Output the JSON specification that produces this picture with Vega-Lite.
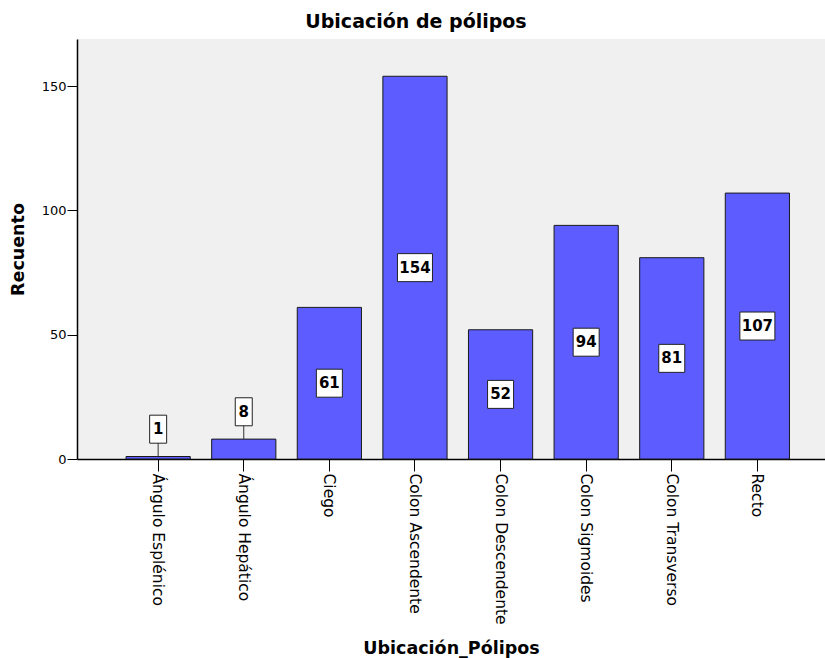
{
  "$schema": "https://vega.github.io/schema/vega-lite/v6.json",
  "width": 748,
  "height": 420,
  "autosize": {"type": "none"},
  "padding": {"left": 77, "top": 39, "right": 0, "bottom": 199},
  "background": "white",
  "config": {
    "font": "DejaVu Sans",
    "view": {"fill": "#f0f0f0", "stroke": null}
  },
  "title": {
    "text": "Ubicación de pólipos",
    "font": "DejaVu Sans",
    "fontSize": 19,
    "fontWeight": "bold",
    "color": "#000000",
    "anchor": "middle",
    "dx": -35,
    "offset": 7
  },
  "data": {
    "values": [
      {"Ubicacion": "Ángulo Esplénico", "Recuento": 1},
      {"Ubicacion": "Ángulo Hepático", "Recuento": 8},
      {"Ubicacion": "Ciego", "Recuento": 61},
      {"Ubicacion": "Colon Ascendente", "Recuento": 154},
      {"Ubicacion": "Colon Descendente", "Recuento": 52},
      {"Ubicacion": "Colon Sigmoides", "Recuento": 94},
      {"Ubicacion": "Colon Transverso", "Recuento": 81},
      {"Ubicacion": "Recto", "Recuento": 107}
    ]
  },
  "transform": [
    {"calculate": "datum.Recuento < 20 ? datum.Recuento + 11 : datum.Recuento / 2", "as": "labelPos"},
    {"calculate": "length(toString(datum.Recuento))", "as": "digits"}
  ],
  "encoding": {
    "x": {
      "field": "Ubicacion",
      "type": "nominal",
      "sort": null,
      "scale": {"paddingInner": 0.25, "paddingOuter": 0.494, "align": 0.58},
      "axis": {
        "title": "Ubicación_Pólipos",
        "titleFont": "DejaVu Sans",
        "titleFontSize": 17.5,
        "titleFontWeight": "bold",
        "titleColor": "#000000",
        "titleY": 189,
        "titleBaseline": "middle",
        "labelAngle": 90,
        "labelAlign": "left",
        "labelBaseline": "middle",
        "labelFontSize": 15.5,
        "labelColor": "#000000",
        "labelPadding": 2,
        "tickSize": 12,
        "tickColor": "#000000",
        "domainColor": "#000000",
        "domainWidth": 1.5
      }
    },
    "y": {
      "field": "Recuento",
      "type": "quantitative",
      "scale": {"domain": [0, 169], "nice": false, "zero": true},
      "axis": {
        "title": "Recuento",
        "titleFont": "DejaVu Sans",
        "titleFontSize": 17.5,
        "titleFontWeight": "bold",
        "titleColor": "#000000",
        "titleX": -59,
        "titleBaseline": "middle",
        "values": [0, 50, 100, 150],
        "grid": false,
        "labelFontSize": 13,
        "labelColor": "#000000",
        "labelPadding": 1,
        "tickSize": 10,
        "tickColor": "#000000",
        "domainColor": "#000000",
        "domainWidth": 1.5
      }
    }
  },
  "layer": [
    {
      "data": {"values": [{}]},
      "mark": {"type": "rule", "stroke": "#8a8a8a", "strokeWidth": 2},
      "encoding": {"x": null, "y": {"datum": 169, "type": "quantitative"}}
    },
    {
      "mark": {"type": "bar", "fill": "#5c5cff", "stroke": "#1a1a1a", "strokeWidth": 1}
    },
    {
      "transform": [{"filter": "datum.Recuento < 20"}],
      "mark": {"type": "rule", "stroke": "#333333", "strokeWidth": 1},
      "encoding": {"y2": {"field": "labelPos"}}
    },
    {
      "mark": {"type": "bar", "fill": "white", "stroke": "#222222", "strokeWidth": 1, "yOffset": 14, "y2Offset": -14},
      "encoding": {
        "y": {"field": "labelPos", "type": "quantitative"},
        "y2": {"field": "labelPos"},
        "size": {"field": "digits", "type": "quantitative", "scale": {"domain": [1, 3], "range": [17, 35]}, "legend": null}
      }
    },
    {
      "mark": {"type": "text", "font": "DejaVu Sans", "fontWeight": "bold", "fontSize": 15, "color": "#000000", "baseline": "middle", "align": "center"},
      "encoding": {
        "y": {"field": "labelPos", "type": "quantitative"},
        "text": {"field": "Recuento", "type": "quantitative"}
      }
    }
  ]
}
